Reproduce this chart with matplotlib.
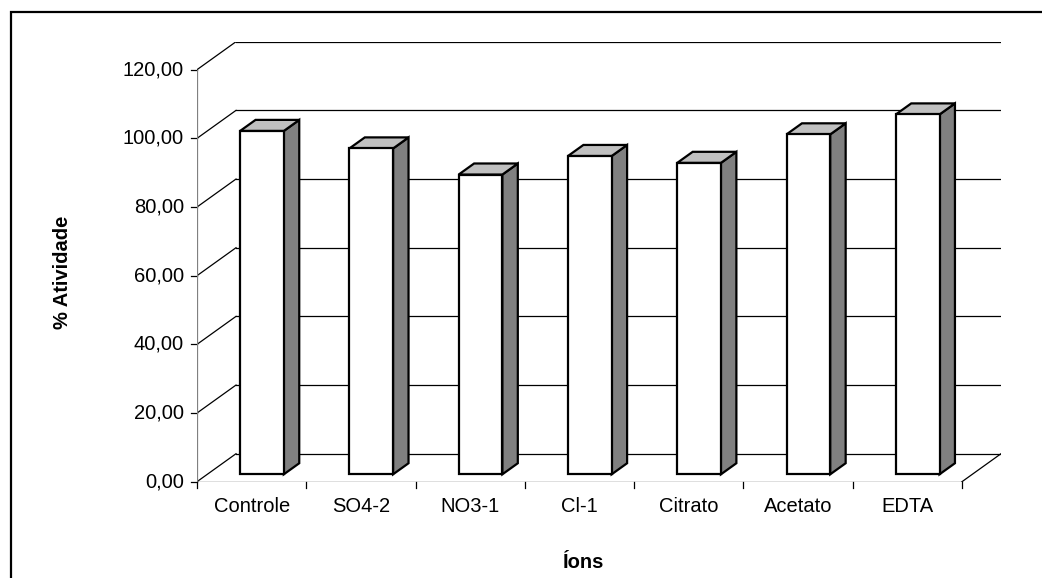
import matplotlib
matplotlib.use('Agg')
import matplotlib.pyplot as plt
from matplotlib.patches import Polygon, Rectangle

plt.rcParams['font.family'] = ['Liberation Sans', 'DejaVu Sans']

categorias = ['Controle', 'SO4-2', 'NO3-1', 'Cl-1', 'Citrato', 'Acetato', 'EDTA']
atividade = [100.0, 94.9, 87.3, 92.7, 90.7, 99.0, 104.8]
y_ticks = [0, 20, 40, 60, 80, 100, 120]

# fake 3d: depth offset of the back wall in data units
dx, dy = 0.357, 8.15
f1, f2 = 0.264, 0.66   # bar front/back depth fraction
bw = 0.4

W, H = 1042, 578
fig = plt.figure(figsize=(W / 100, H / 100), dpi=100)
ax = fig.add_axes([197 / W, (H - 481.7) / H, 804 / W, 440 / H])
n = len(categorias)
ax.set_xlim(0, n + dx)
ax.set_ylim(0, y_ticks[-1] + dy)
ax.axis('off')

lc = 'black'
lw = 0.9
# back wall gridlines and left wall diagonals
for v in y_ticks:
    ax.plot([dx, n + dx], [v + dy, v + dy], color=lc, lw=lw, zorder=1)
    ax.plot([0, dx], [v, v + dy], color=lc, lw=lw, zorder=1)
    ax.plot([-0.055, 0], [v, v], color=lc, lw=lw, zorder=1, clip_on=False)
    ax.annotate(f'{v:.2f}'.replace('.', ','), (0, v), xytext=(-13, 0),
                textcoords='offset pixels', ha='right', va='center', fontsize=14.5)
# y axis and floor
ax.plot([0, 0], [0, y_ticks[-1]], color='#808080', lw=lw, zorder=1)
ax.plot([0, n], [0, 0], color=lc, lw=lw, zorder=1)
ax.plot([n, n + dx], [0, dy], color=lc, lw=lw, zorder=1)
for i in range(n + 1):
    ax.plot([i, i], [0, -1.85], color=lc, lw=lw, clip_on=False)
for i, c in enumerate(categorias):
    ax.annotate(c, (i + 0.5, 0), xytext=(0, -25), textcoords='offset pixels',
                ha='center', va='center', fontsize=14.5)

# bars
for i, v in enumerate(atividade):
    x0 = i + 0.5 - bw / 2
    x1 = i + 0.5 + bw / 2
    front = [(x0 + f1 * dx, f1 * dy), (x1 + f1 * dx, f1 * dy),
             (x1 + f1 * dx, v + f1 * dy), (x0 + f1 * dx, v + f1 * dy)]
    side = [(x1 + f1 * dx, f1 * dy), (x1 + f2 * dx, f2 * dy),
            (x1 + f2 * dx, v + f2 * dy), (x1 + f1 * dx, v + f1 * dy)]
    top = [(x0 + f1 * dx, v + f1 * dy), (x1 + f1 * dx, v + f1 * dy),
           (x1 + f2 * dx, v + f2 * dy), (x0 + f2 * dx, v + f2 * dy)]
    for pts, col in [(side, '#808080'), (top, '#c0c0c0'), (front, 'white')]:
        ax.add_patch(Polygon(pts, closed=True, facecolor=col, edgecolor='black',
                             lw=1.6, joinstyle='miter', zorder=3))

fig.text(62 / W, 1 - 272 / H, '% Atividade', rotation=90, ha='center', va='center',
         fontsize=14.5, fontweight='bold')
fig.text(584 / W, 1 - 563 / H, 'Íons', ha='center', va='center',
         fontsize=14.5, fontweight='bold')

# outer chart frame (cut by the image edge)
fig.patches.append(Rectangle((10.5 / W, -0.1), 1.2, 1 - 12.5 / H + 0.1,
                             transform=fig.transFigure, fill=False,
                             edgecolor='black', lw=1.6))

fig.savefig('out.png', dpi=100)
